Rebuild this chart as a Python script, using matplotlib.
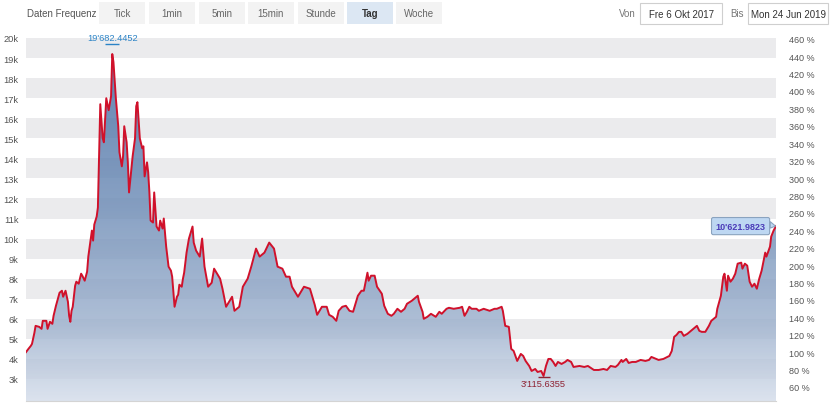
import numpy as np
import pandas as pd
import matplotlib
matplotlib.use("Agg")
import matplotlib.pyplot as plt
import matplotlib.dates as mdates
from matplotlib.colors import LinearSegmentedColormap
from matplotlib.patches import Rectangle, PathPatch, Polygon
from matplotlib.path import Path
import matplotlib.transforms as mtransforms

# ---------------- data ----------------
dates = [
    "2017-10-06", "2017-10-08", "2017-10-10", "2017-10-11", "2017-10-13", "2017-10-14", "2017-10-17",
    "2017-10-19", "2017-10-20", "2017-10-23", "2017-10-24", "2017-10-26", "2017-10-28", "2017-10-29",
    "2017-10-31",
    "2017-11-03", "2017-11-05", "2017-11-06", "2017-11-08", "2017-11-10", "2017-11-11", "2017-11-12",
    "2017-11-13", "2017-11-14", "2017-11-16", "2017-11-17", "2017-11-19", "2017-11-21", "2017-11-22",
    "2017-11-24", "2017-11-26", "2017-11-27", "2017-11-30",
    "2017-12-01", "2017-12-02", "2017-12-04", "2017-12-05", "2017-12-07", "2017-12-09", "2017-12-10",
    "2017-12-12", "2017-12-14", "2017-12-16", "2017-12-17", "2017-12-18", "2017-12-20", "2017-12-22",
    "2017-12-23", "2017-12-25", "2017-12-26", "2017-12-27", "2017-12-29", "2017-12-30", "2017-12-31",
    "2018-01-02", "2018-01-03", "2018-01-05", "2018-01-06", "2018-01-07", "2018-01-09", "2018-01-11",
    "2018-01-12", "2018-01-13", "2018-01-15", "2018-01-16", "2018-01-17", "2018-01-18", "2018-01-20",
    "2018-01-21", "2018-01-23", "2018-01-25", "2018-01-26", "2018-01-28", "2018-01-29", "2018-01-31",
    "2018-02-02", "2018-02-04", "2018-02-05", "2018-02-07", "2018-02-09", "2018-02-10", "2018-02-11",
    "2018-02-13", "2018-02-14", "2018-02-15", "2018-02-17", "2018-02-19", "2018-02-21", "2018-02-22",
    "2018-02-23", "2018-02-25", "2018-02-28",
    "2018-03-02", "2018-03-04", "2018-03-07", "2018-03-10", "2018-03-12", "2018-03-17", "2018-03-19",
    "2018-03-22", "2018-03-27", "2018-03-29",
    "2018-04-02", "2018-04-05", "2018-04-09", "2018-04-12", "2018-04-16", "2018-04-19", "2018-04-23",
    "2018-04-27",
    "2018-05-01", "2018-05-04", "2018-05-08", "2018-05-11", "2018-05-14", "2018-05-16", "2018-05-21",
    "2018-05-26", "2018-05-31",
    "2018-06-04", "2018-06-06", "2018-06-10", "2018-06-14", "2018-06-16", "2018-06-19", "2018-06-22",
    "2018-06-24", "2018-06-27", "2018-06-30",
    "2018-07-03", "2018-07-06", "2018-07-10", "2018-07-13", "2018-07-15", "2018-07-18", "2018-07-19",
    "2018-07-21", "2018-07-24", "2018-07-26", "2018-07-30",
    "2018-08-01", "2018-08-04", "2018-08-07", "2018-08-09", "2018-08-12", "2018-08-15", "2018-08-18",
    "2018-08-20", "2018-08-24", "2018-08-26", "2018-08-29", "2018-08-30",
    "2018-09-02", "2018-09-03", "2018-09-06", "2018-09-09", "2018-09-13", "2018-09-16", "2018-09-18",
    "2018-09-22", "2018-09-24", "2018-09-28",
    "2018-10-03", "2018-10-05", "2018-10-07", "2018-10-09", "2018-10-11", "2018-10-13", "2018-10-17",
    "2018-10-19", "2018-10-23", "2018-10-28",
    "2018-11-01", "2018-11-03", "2018-11-07", "2018-11-08", "2018-11-10", "2018-11-13", "2018-11-15",
    "2018-11-17", "2018-11-20", "2018-11-23", "2018-11-25", "2018-11-27", "2018-11-30",
    "2018-12-02", "2018-12-05", "2018-12-07", "2018-12-10", "2018-12-12", "2018-12-14", "2018-12-16",
    "2018-12-18", "2018-12-20", "2018-12-22", "2018-12-24", "2018-12-27", "2018-12-30",
    "2019-01-01", "2019-01-04", "2019-01-06", "2019-01-11", "2019-01-15", "2019-01-18", "2019-01-23",
    "2019-01-27", "2019-01-31",
    "2019-02-03", "2019-02-06", "2019-02-10", "2019-02-12", "2019-02-15", "2019-02-16", "2019-02-19",
    "2019-02-21", "2019-02-24", "2019-02-27",
    "2019-03-03", "2019-03-07", "2019-03-10", "2019-03-12", "2019-03-16", "2019-03-18", "2019-03-22",
    "2019-03-27", "2019-03-29", "2019-03-31",
    "2019-04-02", "2019-04-04", "2019-04-06", "2019-04-08", "2019-04-11", "2019-04-14", "2019-04-16",
    "2019-04-19", "2019-04-21", "2019-04-23", "2019-04-26", "2019-04-29",
    "2019-05-01", "2019-05-05", "2019-05-06", "2019-05-09", "2019-05-11", "2019-05-12", "2019-05-14",
    "2019-05-15", "2019-05-17", "2019-05-19", "2019-05-21", "2019-05-23", "2019-05-26", "2019-05-27",
    "2019-05-29", "2019-05-31",
    "2019-06-02", "2019-06-04", "2019-06-06", "2019-06-08", "2019-06-10", "2019-06-12", "2019-06-15",
    "2019-06-16", "2019-06-19", "2019-06-20", "2019-06-22", "2019-06-24",
]
prices = [
    4340, 4500, 4650, 4750, 5300, 5650, 5600,
    5500, 5900, 5900, 5500, 5850, 5750, 6150,
    6650,
    7300, 7400, 7100, 7400, 6850, 6150, 5850,
    6400, 6600, 7650, 7850, 7750, 8250, 8150,
    7900, 8350, 9100, 10400,
    9900, 10700, 11100, 11550, 16700, 15000, 14800,
    17000, 16400, 17100, 19200, 18800, 17000, 15600,
    14300, 13600, 14100, 15600, 14800, 13800, 12300,
    13500, 14100, 15000, 16600, 16800, 15000, 14500,
    14600, 13100, 13800, 13300, 12300, 10900, 10800,
    12300, 10600, 10400, 10900, 10500, 11000, 9600,
    8600, 8400, 8100, 6600, 7100, 7200, 7700,
    7600, 8000, 8300, 9300, 10000, 10400, 10600,
    9800, 9400, 9100,
    10000, 8600, 7600, 7800, 8500, 8000, 7500,
    6600, 7100, 6400,
    6600, 7600, 8000, 8600, 9500, 9100, 9300,
    9800,
    9500, 8600, 8500, 8100, 8100, 7600, 7100,
    7600, 7500,
    6700, 6200, 6600, 6600, 6200, 6100, 5900,
    6400, 6600, 6650,
    6400, 6350, 7150, 7400, 7400, 8300, 7900,
    8150, 8150, 7600, 7250,
    6650, 6250, 6150, 6250, 6500, 6350, 6500,
    6750, 6900, 7000, 7150, 6850,
    6350, 6000, 6100, 6250, 6100, 6350, 6250,
    6500, 6550, 6500,
    6550, 6600, 6150, 6350, 6600, 6500, 6500,
    6400, 6500, 6400,
    6500, 6500, 6600, 6400, 5650, 5600, 4500,
    4400, 3900, 4250, 4150, 3900, 3650,
    3400, 3500, 3350, 3400, 3150, 3650, 4000,
    4000, 3850, 3650, 3850, 3750, 3850,
    3950, 3850, 3600, 3650, 3600, 3650, 3450,
    3450, 3500,
    3450, 3650, 3600, 3700, 3950, 3850, 4000,
    3800, 3850, 3850,
    3950, 3900, 3950, 4100, 4000, 3950, 4000,
    4150, 4400, 5100,
    5200, 5350, 5350, 5150, 5250, 5400, 5500,
    5650, 5400, 5350, 5350, 5650,
    5900, 6100, 6500, 7150, 8100, 8250, 7400,
    8150, 7850, 8000, 8250, 8750, 8800, 8500,
    8750, 8650,
    7850, 7600, 7750, 7500, 8000, 8400, 9300,
    9100, 9600, 10100, 10400, 10621.9823,
]
left_ticks = [3000, 4000, 5000, 6000, 7000, 8000, 9000, 10000, 11000, 12000,
              13000, 14000, 15000, 16000, 17000, 18000, 19000, 20000]
left_tick_labels = ["3k", "4k", "5k", "6k", "7k", "8k", "9k", "10k", "11k", "12k",
                    "13k", "14k", "15k", "16k", "17k", "18k", "19k", "20k"]
right_ticks = [60, 80, 100, 120, 140, 160, 180, 200, 220, 240, 260,
               280, 300, 320, 340, 360, 380, 400, 420, 440, 460]
right_tick_labels = ["60 %", "80 %", "100 %", "120 %", "140 %", "160 %", "180 %", "200 %",
                     "220 %", "240 %", "260 %", "280 %", "300 %", "320 %", "340 %", "360 %",
                     "380 %", "400 %", "420 %", "440 %", "460 %"]
frequency_label = "Daten Frequenz"
frequency_buttons = ["Tick", "1min", "5min", "15min", "Stunde", "Tag", "Woche"]
active_button = "Tag"
from_label, from_value = "Von", "Fre 6 Okt 2017"
to_label, to_value = "Bis", "Mon 24 Jun 2019"
high_value = 19682.4452
low_value = 3115.6355
last_value = 10621.9823

# ---------------- figure ----------------
plt.rcParams['font.family'] = ['Liberation Sans', 'DejaVu Sans']
W, H = 830, 410
fig = plt.figure(figsize=(W / 100, H / 100), dpi=100)
fig.patch.set_facecolor('white')


def fx(x):
    return x / W


def fy(y):
    return 1 - y / H


ax = fig.add_axes([fx(26), fy(402), fx(750), (402 - 30) / H])
x = pd.to_datetime(dates)
xn = mdates.date2num(x)
y = np.array(prices, dtype=float)
base = prices[0]

ymin, ymax = 1903, 20448
ax.set_xlim(xn[0], xn[-1])
ax.set_ylim(ymin, ymax)

# alternating bands
for k in range(3000, 20000, 2000):
    ax.axhspan(k, k + 1000, color='#ebebed', zorder=0, lw=0)

# gradient fill under line
verts = [(xn[0], ymin)] + list(zip(xn, y)) + [(xn[-1], ymin)]
clip = PathPatch(Path(verts), facecolor='none', edgecolor='none')
ax.add_patch(clip)
cmap = LinearSegmentedColormap.from_list(
    'g', [(0.0, '#d3dcea'), (0.22, '#98adcb'), (0.545, '#6888b4'), (0.87, '#466ea4'), (1.0, '#3e689f')])
grad = np.linspace(0, 1, 256).reshape(-1, 1)
im = ax.imshow(grad, extent=[xn[0], xn[-1], ymin, ymax], origin='lower', aspect='auto',
               cmap=cmap, alpha=0.8, zorder=1, interpolation='bicubic')
im.set_clip_path(clip)

ax.plot(xn, y, color='#d0112b', lw=1.4, zorder=4, solid_joinstyle='round')

# axes styling
for s in ['top', 'left', 'right']:
    ax.spines[s].set_visible(False)
ax.spines['bottom'].set_color('#d4d4d4')
ax.spines['bottom'].set_linewidth(0.8)
ax.set_xticks([])
ax.set_yticks(left_ticks)
ax.set_yticklabels(left_tick_labels)
ax.tick_params(axis='y', length=0, pad=5.5, labelsize=6.7, labelcolor='#555555')

ax2 = ax.twinx()
ax2.set_ylim(ymin / base * 100, ymax / base * 100)
ax2.set_yticks(right_ticks)
ax2.set_yticklabels(right_tick_labels)
ax2.tick_params(axis='y', length=0, pad=9.5, labelsize=6.5, labelcolor='#555555')
for s in ax2.spines.values():
    s.set_visible(False)


def fmt(v):
    return f"{v:,.4f}".replace(",", "'")


# high marker
i_hi = int(np.argmax(y))
ax.plot([xn[i_hi]], [high_value], marker='_', ms=9.5, mew=1.0, color='#2b83c6', zorder=5)
ax.annotate(fmt(high_value), xy=(xn[i_hi], high_value), xytext=(0, 1.5), textcoords='offset points',
            ha='center', va='bottom', fontsize=6.7, color='#2b83c6', zorder=6)
# low marker
i_lo = int(np.argmin(y))
ax.plot([xn[i_lo]], [low_value], marker='_', ms=8, mew=1.0, color='#8e2233', zorder=5)
ax.annotate(fmt(low_value), xy=(xn[i_lo], low_value), xytext=(0, -2), textcoords='offset points',
            ha='center', va='top', fontsize=6.7, color='#8e2233', zorder=6)
# last value box with pointer
ax.annotate(fmt(last_value), xy=(xn[-1], last_value), xytext=(-7.5, 0), textcoords='offset points',
            ha='right', va='center', fontsize=6.5, fontweight='bold', color='#4b3cb8', zorder=7,
            bbox=dict(boxstyle='round,pad=0.45,rounding_size=0.2', fc='#bdd7f2', ec='#8aa3bf', lw=0.8))
ptr_trans = fig.dpi_scale_trans + mtransforms.ScaledTranslation(xn[-1], last_value, ax.transData)
ax.add_patch(Polygon([(-0.058, 0.045), (-0.005, 0.0), (-0.058, -0.02)], closed=True,
                     transform=ptr_trans, facecolor='#bdd7f2', edgecolor='#8aa3bf', lw=0.8,
                     zorder=6.5, clip_on=False))

# ---------------- top control bar ----------------
fig.text(fx(27), fy(14), frequency_label, fontsize=7, color='#555555', va='center', ha='left')
btn_x = [99, 149, 199, 248, 298, 347, 396]
for bx, name in zip(btn_x, frequency_buttons):
    active = name == active_button
    fig.patches.append(Rectangle((fx(bx), fy(25)), 46 / W, 22 / H, transform=fig.transFigure,
                                 facecolor='#dce7f3' if active else '#f3f3f3', edgecolor='none'))
    fig.text(fx(bx + 23), fy(14), name, fontsize=7, ha='center', va='center',
             color='#333333' if active else '#666666', fontweight='bold' if active else 'normal')

fig.text(fx(619), fy(14), from_label, fontsize=7, color='#777777', va='center', ha='left')
fig.patches.append(Rectangle((fx(640), fy(25)), 82 / W, 21 / H, transform=fig.transFigure,
                             facecolor='white', edgecolor='#cfcfcf', lw=0.8))
fig.text(fx(681), fy(14.5), from_value, fontsize=7, color='#333333', va='center', ha='center')
fig.text(fx(730), fy(14), to_label, fontsize=7, color='#777777', va='center', ha='left')
fig.patches.append(Rectangle((fx(748), fy(25)), 80 / W, 21 / H, transform=fig.transFigure,
                             facecolor='white', edgecolor='#cfcfcf', lw=0.8))
fig.text(fx(788), fy(14.5), to_value, fontsize=7, color='#333333', va='center', ha='center')

fig.savefig('out.png', dpi=100, facecolor='white')
